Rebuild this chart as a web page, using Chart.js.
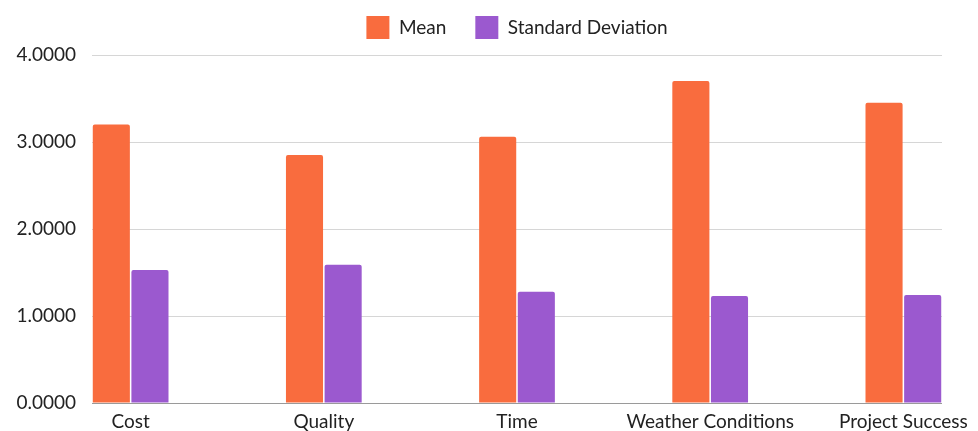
<!DOCTYPE html>
<html>
<head>
<meta charset="utf-8">
<script src="https://cdn.jsdelivr.net/npm/chart.js@4/dist/chart.umd.min.js"></script>
<style>
  html, body { margin: 0; padding: 0; background: #fff; }
  #wrap { width: 978px; height: 431px; }
</style>
</head>
<body>
<div id="wrap"><canvas id="statsChart"></canvas></div>
<script>
// chart values
const categories = ["Cost", "Quality", "Time", "Weather Conditions", "Project Success"];
const meanValues = [3.20, 2.85, 3.06, 3.70, 3.45];
const sdValues = [1.53, 1.59, 1.28, 1.23, 1.24];
const yTicks = [0, 1, 2, 3, 4];

const fontFamily = "Lato, 'Open Sans', sans-serif";
const textColor = "#222222";

// each category sits at its index on a linear x scale
function toPoints(values) {
  return values.map((v, i) => ({ x: i, y: v }));
}

// legend sizing hack so the plot area starts where the reference does
const legendFitPlugin = {
  id: "legendFit",
  beforeInit(chart) {
    const origFit = chart.legend.fit;
    chart.legend.fit = function () {
      origFit.call(this);
      this.height = 68;
    };
  }
};

const ctx = document.getElementById("statsChart").getContext("2d");
const statsChart = new Chart(ctx, {
  type: "bar",
  data: {
    datasets: [
      {
        label: "Mean",
        data: toPoints(meanValues),
        backgroundColor: "#F96C3E",
        borderRadius: 2,
        categoryPercentage: 0.4,
        barPercentage: 0.96
      },
      {
        label: "Standard Deviation",
        data: toPoints(sdValues),
        backgroundColor: "#9B59CF",
        borderRadius: 2,
        categoryPercentage: 0.4,
        barPercentage: 0.96
      }
    ]
  },
  options: {
    responsive: true,
    maintainAspectRatio: false,
    animation: false,
    layout: {
      padding: { top: -13, left: 0, right: 36, bottom: 0 }
    },
    plugins: {
      tooltip: { enabled: false },
      legend: {
        position: "top",
        fullSize: false,
        labels: {
          boxWidth: 23,
          boxHeight: 23,
          padding: 29,
          color: textColor,
          font: { family: fontFamily, size: 19 }
        }
      }
    },
    scales: {
      x: {
        type: "linear",
        offset: false,
        min: -0.2,
        max: 4.2,
        afterFit(scale) { scale.height = 28; },
        afterBuildTicks(scale) {
          scale.ticks = categories.map((c, i) => ({ value: i }));
        },
        grid: { display: false, drawTicks: false },
        border: { display: false },
        ticks: {
          padding: 7,
          maxRotation: 0,
          autoSkip: false,
          color: textColor,
          font: { family: fontFamily, size: 19 },
          callback: (value) => categories[value]
        }
      },
      y: {
        min: 0,
        max: 4,
        afterFit(scale) { scale.width = 92; },
        afterBuildTicks(scale) {
          scale.ticks = yTicks.map((v) => ({ value: v }));
        },
        border: { display: false },
        grid: {
          drawTicks: false,
          lineWidth: 1,
          color: (c) => (c.tick && c.tick.value === 0 ? "#9a9a9a" : "#d6d6d6")
        },
        ticks: {
          padding: 16,
          color: textColor,
          font: { family: fontFamily, size: 19 },
          callback: (value) => Number(value).toFixed(4)
        }
      }
    }
  },
  plugins: [legendFitPlugin]
});
</script>
</body>
</html>
